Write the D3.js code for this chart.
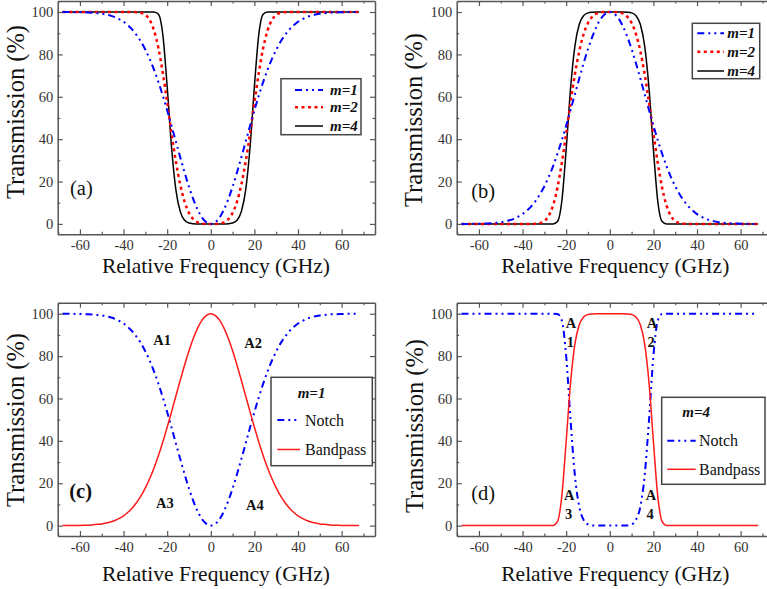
<!DOCTYPE html>
<html><head><meta charset="utf-8">
<script src="https://cdn.jsdelivr.net/npm/d3@7"></script>
<style>
body{margin:0;background:#fff}
svg{display:block;background:#fff}
text{font-family:"Liberation Serif","Times New Roman",serif}
</style>
</head><body><svg id="chart" width="767" height="589"></svg>
<script>
// ---------------- DATA ----------------
const freq = [-68,-66,-64,-62,-60,-58,-56,-54,-52,-50,-48,-46,-44,-42,-40,-38,-36,-34,-32,-30,-28,-26,-24,-22,-20,-18,-16,-14,-12,-10,-8,-6,-4,-2,0,2,4,6,8,10,12,14,16,18,20,22,24,26,28,30,32,34,36,38,40,42,44,46,48,50,52,54,56,58,60,62,64,66,68];

// Bandpass, m=1
const bandM1 = [0,0,0,0.1,0.1,0.2,0.2,0.4,0.6,0.8,1.2,1.7,2.4,3.4,4.6,6.3,8.3,10.9,14.0,17.8,22.2,27.3,33.1,39.5,46.4,53.7,61.2,68.6,75.8,82.5,88.4,93.3,97.0,99.2,100,99.2,97.0,93.3,88.4,82.5,75.8,68.6,61.2,53.7,46.4,39.5,33.1,27.3,22.2,17.8,14.0,10.9,8.3,6.3,4.6,3.4,2.4,1.7,1.2,0.8,0.6,0.4,0.2,0.2,0.1,0.1,0,0,0];
// Bandpass, m=2
const bandM2 = [0,0,0,0,0,0,0,0,0,0,0,0,0,0,0,0,0,0.1,0.4,1.3,3.8,8.8,17.1,28.8,42.7,57.2,70.6,81.5,89.6,94.8,97.8,99.3,99.9,100,100,100,99.9,99.3,97.8,94.8,89.6,81.5,70.6,57.2,42.7,28.8,17.1,8.8,3.8,1.3,0.4,0.1,0,0,0,0,0,0,0,0,0,0,0,0,0,0,0,0,0];
// Bandpass, m=4
const bandM4 = [0,0,0,0,0,0,0,0,0,0,0,0,0,0,0,0,0,0,0,0,0,0,1.1,10.7,35.2,63.8,83.9,94.2,98.3,99.6,99.9,100,100,100,100,100,100,100,99.9,99.6,98.3,94.2,83.9,63.8,35.2,10.7,1.1,0,0,0,0,0,0,0,0,0,0,0,0,0,0,0,0,0,0,0,0,0,0];
// Notch, m=1
const notchM1 = [100,100,100,99.9,99.9,99.8,99.8,99.6,99.4,99.2,98.8,98.3,97.6,96.6,95.4,93.7,91.7,89.1,86.0,82.2,77.8,72.7,66.9,60.5,53.6,46.3,38.8,31.4,24.2,17.5,11.6,6.7,3.0,0.8,0,0.8,3.0,6.7,11.6,17.5,24.2,31.4,38.8,46.3,53.6,60.5,66.9,72.7,77.8,82.2,86.0,89.1,91.7,93.7,95.4,96.6,97.6,98.3,98.8,99.2,99.4,99.6,99.8,99.8,99.9,99.9,100,100,100];
// Notch, m=2
const notchM2 = [100,100,100,100,100,100,100,100,100,100,100,100,100,100,100,100,100,99.9,99.6,98.7,96.2,91.2,82.9,71.2,57.3,42.8,29.4,18.5,10.4,5.2,2.2,0.7,0.1,0,0,0,0.1,0.7,2.2,5.2,10.4,18.5,29.4,42.8,57.3,71.2,82.9,91.2,96.2,98.7,99.6,99.9,100,100,100,100,100,100,100,100,100,100,100,100,100,100,100,100,100];
// Notch, m=4
const notchM4 = [100,100,100,100,100,100,100,100,100,100,100,100,100,100,100,100,100,100,100,100,100,100,98.9,89.3,64.8,36.2,16.1,5.8,1.7,0.4,0.1,0,0,0,0,0,0,0,0.1,0.4,1.7,5.8,16.1,36.2,64.8,89.3,98.9,100,100,100,100,100,100,100,100,100,100,100,100,100,100,100,100,100,100,100,100,100,100];
// Panel (d): bandpass m=4 and notch m=4
const bandD = [0,0,0,0,0,0,0,0,0,0,0,0,0,0,0,0,0,0,0,0,0,0.1,1.9,13.9,39.8,67.3,85.7,94.8,98.5,99.6,99.9,100,100,100,100,100,100,100,99.9,99.6,98.5,94.8,85.7,67.3,39.8,13.9,1.9,0.1,0,0,0,0,0,0,0,0,0,0,0,0,0,0,0,0,0,0,0,0,0];
const notchD = [100,100,100,100,100,100,100,100,100,100,100,100,100,100,100,100,100,100,100,100,100,100,99.9,96.8,80.0,50.0,23.7,8.9,2.7,0.6,0.1,0,0,0,0,0,0,0,0.1,0.6,2.7,8.9,23.7,50.0,80.0,96.8,99.9,100,100,100,100,100,100,100,100,100,100,100,100,100,100,100,100,100,100,100,100,100,100];

const xTicks = [-60,-40,-20,0,20,40,60];
const xMinorTicks = [-70,-50,-30,-10,10,30,50,70];
const yTicks = [0,20,40,60,80,100];
const yMinorTicks = [10,30,50,70,90];
const xLabel = "Relative Frequency (GHz)";
const yLabel = "Transmission (%)";
const legendABC = ["m=1","m=2","m=4"];
const legendCD = ["Notch","Bandpass"];

// ---------------- STYLES ----------------
const S = {
  m1:{stroke:"#0000ff", w:2, dash:"7,4,2,4,2,4"},
  m2:{stroke:"#ff0000", w:2.5, dash:"3,3.5"},
  m4:{stroke:"#000000", w:1.5, dash:null},
  bp:{stroke:"#ff1a1a", w:1.5, dash:null}
};
const FRAME = "#555";

const panels = [
  {left:57.7, top:1, bottom:234.3, letter:"(a)", lx:70, ly:195, lbold:false,
   ylab:{x:24, y:112}, xlab:{x:216, y:272.5},
   series:[{v:notchM4,s:S.m4},{v:notchM2,s:S.m2},{v:notchM1,s:S.m1}],
   legend:{box:[281,78.7,361,134.7], type:"m", rows:[{y:90,s:S.m1,t:legendABC[0]},{y:107.3,s:S.m2,t:legendABC[1]},{y:126,s:S.m4,t:legendABC[2]}], sx:[295,323], tx:330}},
  {left:456.7, top:1, bottom:234.3, letter:"(b)", lx:471.3, ly:197.5, lbold:false,
   ylab:{x:422, y:120}, xlab:{x:615.3, y:273},
   series:[{v:bandM4,s:S.m4},{v:bandM2,s:S.m2},{v:bandM1,s:S.m1}],
   legend:{box:[692.3,23.3,759.7,78.7], type:"m", rows:[{y:33.3,s:S.m1,t:legendABC[0]},{y:51.7,s:S.m2,t:legendABC[1]},{y:71,s:S.m4,t:legendABC[2]}], sx:[697.3,724], tx:727.3}},
  {left:57.7, top:302.7, bottom:536, letter:"(c)", lx:69.3, ly:498.3, lbold:true,
   ylab:{x:24, y:420}, xlab:{x:216, y:580.5},
   series:[{v:notchM1,s:S.m1},{v:bandM1,s:S.bp}],
   ann:[{t:"A1",x:153.3,y:345},{t:"A2",x:244.3,y:347.7},{t:"A3",x:156,y:507.7},{t:"A4",x:246,y:510}],
   legend:{box:[271,377.3,372.3,465.7], type:"nb", title:"m=1", titleX:297.7, titleY:398,
     rows:[{y:420,s:S.m1,t:legendCD[0],ty:425.5},{y:449.5,s:S.bp,t:legendCD[1],ty:455}], sx:[277.3,300], tx:305}},
  {left:456.7, top:302.7, bottom:536, letter:"(d)", lx:471.3, ly:500, lbold:false,
   ylab:{x:423, y:426}, xlab:{x:615.3, y:580.5},
   series:[{v:notchD,s:S.m1},{v:bandD,s:S.bp}],
   ann:[{t:"A",x:565.7,y:327.7},{t:"1",x:566.7,y:346.7},{t:"A",x:646.7,y:327.7},{t:"2",x:647.5,y:346.7},
        {t:"A",x:564,y:500},{t:"3",x:565,y:519},{t:"A",x:645.7,y:500},{t:"4",x:646.5,y:519}],
   legend:{box:[661.7,397.3,765,484.3], type:"nb", title:"m=4", titleX:682.3, titleY:417,
     rows:[{y:440.7,s:S.m1,t:legendCD[0],ty:446},{y:469.3,s:S.bp,t:legendCD[1],ty:475}], sx:[667.3,695.7], tx:699}}
];

const svg = d3.select("#chart");
svg.append("rect").attr("width",767).attr("height",589).attr("fill","#fff");

const XW = 317.3; // plot width in px
const XDOM = [-70.2, 75.3];
const YDOM = [-4.9, 105.2];

function styleAxis(g){
  g.attr("font-family",null).attr("font-size",null);
  g.select(".domain").attr("stroke",FRAME).attr("stroke-width",1.5);
  g.selectAll(".tick line").attr("stroke",FRAME).attr("stroke-width",1.2);
  g.selectAll(".tick text").attr("fill","#333").style("font-size","14.5px")
    .style("font-family",'"Liberation Serif","Times New Roman",serif');
}

panels.forEach(p => {
  const x = d3.scaleLinear().domain(XDOM).range([p.left, p.left + XW]);
  const y = d3.scaleLinear().domain(YDOM).range([p.bottom, p.top]);
  const g = svg.append("g");
  const fmt = d => String(d);
  const right = p.left + XW;

  // curves
  const line = d3.line().x((d,i)=>x(freq[i])).y(d=>y(d)).curve(d3.curveMonotoneX);
  p.series.forEach(se => {
    g.append("path").datum(se.v).attr("d", line).attr("fill","none")
      .attr("stroke", se.s.stroke).attr("stroke-width", se.s.w)
      .attr("stroke-dasharray", se.s.dash).attr("stroke-linejoin","round");
  });

  // axes (major)
  const gb = g.append("g").attr("transform",`translate(0,${p.bottom})`)
    .call(d3.axisBottom(x).tickValues(xTicks).tickSizeInner(-5).tickSizeOuter(0).tickPadding(5.5).tickFormat(fmt));
  styleAxis(gb);
  const gt = g.append("g").attr("transform",`translate(0,${p.top})`)
    .call(d3.axisTop(x).tickValues(xTicks).tickSizeInner(-5).tickSizeOuter(0).tickFormat(""));
  styleAxis(gt);
  const gl = g.append("g").attr("transform",`translate(${p.left},0)`)
    .call(d3.axisLeft(y).tickValues(yTicks).tickSizeInner(-5).tickSizeOuter(0).tickPadding(4.5).tickFormat(fmt));
  styleAxis(gl);
  const gr = g.append("g").attr("transform",`translate(${right},0)`)
    .call(d3.axisRight(y).tickValues(yTicks).tickSizeInner(-5).tickSizeOuter(0).tickFormat(""));
  styleAxis(gr);
  // minor ticks
  [[d3.axisBottom(x).tickValues(xMinorTicks), p.bottom, true],[d3.axisTop(x).tickValues(xMinorTicks), p.top, true],
   [d3.axisLeft(y).tickValues(yMinorTicks), p.left, false],[d3.axisRight(y).tickValues(yMinorTicks), right, false]].forEach(([ax,pos,horiz])=>{
    const gm = g.append("g").attr("transform", horiz?`translate(0,${pos})`:`translate(${pos},0)`)
      .call(ax.tickSizeInner(-2.5).tickSizeOuter(0).tickFormat(""));
    gm.select(".domain").remove();
    gm.selectAll(".tick line").attr("stroke",FRAME).attr("stroke-width",1.2);
  });

  // axis titles
  g.append("text").attr("x",p.xlab.x).attr("y",p.xlab.y).attr("text-anchor","middle")
    .style("font-size","21.5px").attr("fill","#111").text(xLabel);
  g.append("text").attr("transform",`translate(${p.ylab.x},${p.ylab.y}) rotate(-90)`).attr("text-anchor","middle")
    .style("font-size","24.5px").attr("fill","#111").text(yLabel);

  // panel letter
  g.append("text").attr("x",p.lx).attr("y",p.ly).style("font-size","20.5px")
    .style("font-weight", p.lbold?"bold":"normal").attr("fill","#111").text(p.letter);

  // annotations
  (p.ann||[]).forEach(a => {
    g.append("text").attr("x",a.x).attr("y",a.y).style("font-size","14.5px").style("font-weight","bold")
      .attr("fill","#111").text(a.t);
  });

  // legend
  const L = p.legend;
  g.append("rect").attr("x",L.box[0]).attr("y",L.box[1]).attr("width",L.box[2]-L.box[0]).attr("height",L.box[3]-L.box[1])
    .attr("fill","#fff").attr("stroke","#444").attr("stroke-width",1.5);
  if (L.type === "nb") {
    g.append("text").attr("x",L.titleX).attr("y",L.titleY).style("font-size","15px")
      .style("font-weight","bold").style("font-style","italic").attr("fill","#111").text(L.title);
  }
  L.rows.forEach(r => {
    g.append("line").attr("x1",L.sx[0]).attr("x2",L.sx[1]).attr("y1",r.y).attr("y2",r.y)
      .attr("stroke",r.s.stroke).attr("stroke-width",r.s.w).attr("stroke-dasharray",r.s.dash);
    const t = g.append("text").attr("x",L.tx).attr("fill","#111").text(r.t);
    if (L.type === "m") {
      t.attr("y", r.y + 5).style("font-size","15px").style("font-weight","bold").style("font-style","italic");
    } else {
      t.attr("y", r.ty).style("font-size","16px");
    }
  });
});
</script>
</body></html>
